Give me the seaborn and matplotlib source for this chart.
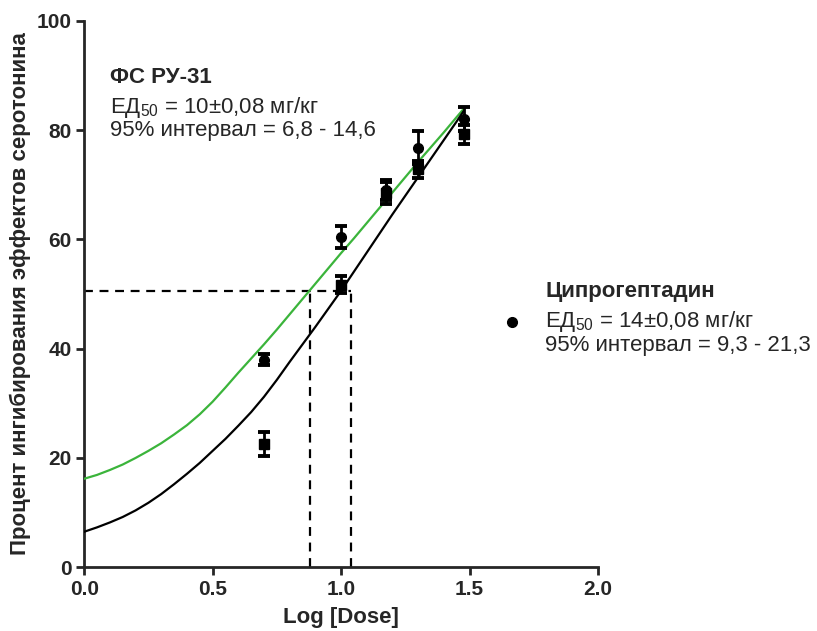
import matplotlib
matplotlib.use("Agg")
import matplotlib.pyplot as plt
import pandas as pd
import seaborn as sns

sns.set_style("ticks")
plt.rcParams['font.family'] = ['Liberation Sans', 'DejaVu Sans']
plt.rcParams['mathtext.fontset'] = 'custom'
plt.rcParams['mathtext.rm'] = 'Liberation Sans'

# точки (log дозы) и средние значения с ошибками
dose_log = [0.70, 1.00, 1.176, 1.30, 1.477]
circle_y = [38.0, 60.4, 69.0, 76.8, 82.0]
circle_err = [1.0, 2.0, 1.8, 3.0, 2.2]
square_y = [22.5, 51.7, 68.5, 72.8, 79.2]
square_err = [2.2, 1.6, 2.0, 1.5, 1.8]

# кривые
curve_x = [0.0, 0.05, 0.1, 0.15, 0.2, 0.25, 0.3, 0.35, 0.4, 0.45, 0.5, 0.55, 0.6, 0.65,
           0.7, 0.75, 0.8, 0.85, 0.9, 0.95, 1.0, 1.05, 1.1, 1.15, 1.2, 1.25, 1.3, 1.35,
           1.4, 1.45, 1.477]
green_y = [16.2, 16.9, 17.8, 18.8, 20.0, 21.3, 22.7, 24.3, 26.0, 28.0, 30.3, 32.9, 35.6, 38.2,
           40.8, 43.5, 46.3, 49.1, 51.9, 54.7, 57.5, 60.2, 63.0, 65.8, 68.6, 71.4, 74.2, 76.9,
           79.6, 82.4, 83.9]
black_y = [6.5, 7.3, 8.2, 9.2, 10.4, 11.8, 13.4, 15.2, 17.1, 19.1, 21.3, 23.5, 25.9, 28.4,
           31.2, 34.3, 37.6, 40.8, 44.0, 47.3, 50.6, 54.1, 57.6, 61.1, 64.6, 68.0, 71.4, 74.8,
           78.2, 81.6, 83.5]

ed50_level = 50.5
ed50_x = [0.88, 1.04]

curves = pd.DataFrame({"x": curve_x * 2,
                       "y": green_y + black_y,
                       "curve": ["green"] * len(curve_x) + ["black"] * len(curve_x)})

fig = plt.figure(figsize=(8.17, 6.31), dpi=100)
ax = fig.add_axes([0.103, 0.101, 0.629, 0.866])

sns.lineplot(data=curves, x="x", y="y", hue="curve",
             palette={"green": "#3bb43b", "black": "black"},
             linewidth=1.6, legend=False, ax=ax, zorder=3)

ax.errorbar(dose_log, circle_y, yerr=circle_err, fmt="o", color="black",
            markersize=7, capsize=4.5, capthick=2.8, elinewidth=2, zorder=4)
ax.errorbar(dose_log, square_y, yerr=square_err, fmt="s", color="black",
            markersize=7, capsize=4.5, capthick=2.8, elinewidth=2, zorder=4)

# пунктир ЕД50
ax.plot([0, max(ed50_x)], [ed50_level, ed50_level], color="black", lw=1.6, ls=(0, (4, 3)))
for xv in ed50_x:
    ax.plot([xv, xv], [0, ed50_level], color="black", lw=1.6, ls=(0, (4, 3)))

ax.set_xlim(0, 2.0)
ax.set_ylim(0, 100)
ax.set_xticks([0.0, 0.5, 1.0, 1.5, 2.0])
ax.set_xticklabels(["0.0", "0.5", "1.0", "1.5", "2.0"])
ax.set_yticks([0, 20, 40, 60, 80, 100])
for lab in ax.get_xticklabels() + ax.get_yticklabels():
    lab.set_fontweight("bold")
    lab.set_fontsize(15)
ax.tick_params(width=2, length=6, direction="out", pad=3)
for s in ["left", "bottom"]:
    ax.spines[s].set_linewidth(2)
sns.despine(ax=ax)
ax.margins(0)

ax.set_xlabel("Log [Dose]", fontsize=16, fontweight="bold", labelpad=6)
ax.set_ylabel("Процент ингибирования эффектов серотонина", fontsize=16,
              fontweight="bold", labelpad=4)

# подписи
ax.text(0.10, 89.6, "ФС РУ-31", fontsize=16, fontweight="bold", va="center")
ax.text(0.10, 84.2, "ЕД$_{50}$ = 10±0,08 мг/кг", fontsize=16, va="center")
ax.text(0.10, 80.0, "95% интервал = 6,8 - 14,6", fontsize=16, va="center")

ax.text(1.794, 50.4, "Ципрогептадин", fontsize=16, fontweight="bold", va="center", clip_on=False)
ax.plot([1.664], [44.9], "o", color="black", markersize=7, clip_on=False)
ax.text(1.794, 44.9, "ЕД$_{50}$ = 14±0,08 мг/кг", fontsize=16, va="center", clip_on=False)
ax.text(1.794, 40.6, "95% интервал = 9,3 - 21,3", fontsize=16, va="center", clip_on=False)

fig.savefig("out.png", dpi=100)
